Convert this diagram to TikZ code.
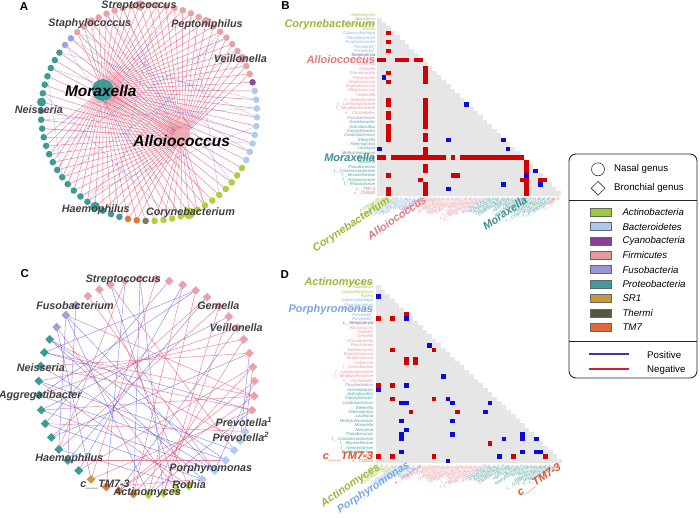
\documentclass[tikz,border=0pt]{standalone}
\usepackage{fontspec}
\setmainfont{Liberation Sans}
\usetikzlibrary{shapes.geometric}
\pgfdeclarelayer{bg}
\pgfsetlayers{bg,main}
% node colours
\definecolor{nAct}{HTML}{B2CD3E}
\definecolor{nBac}{HTML}{AFCBF0}
\definecolor{nCya}{HTML}{8E4E96}
\definecolor{nFir}{HTML}{E9A3A8}
\definecolor{nFus}{HTML}{9EA0E0}
\definecolor{nPro}{HTML}{3F9A96}
\definecolor{nSR}{HTML}{C9A03E}
\definecolor{nThe}{HTML}{847660}
\definecolor{nTM}{HTML}{E0783C}
% legend swatches
\definecolor{sAct}{HTML}{9DCB3C}
\definecolor{sBac}{HTML}{A9C9EE}
\definecolor{sCya}{HTML}{8B3F96}
\definecolor{sFir}{HTML}{E6999D}
\definecolor{sFus}{HTML}{9797D6}
\definecolor{sPro}{HTML}{3F9C99}
\definecolor{sSR}{HTML}{C79A35}
\definecolor{sThe}{HTML}{595640}
\definecolor{sTM}{HTML}{E06A3A}
% heatmap
\definecolor{hmred}{HTML}{D40000}
\definecolor{hmblue}{HTML}{0A0ADC}
\definecolor{hmgray}{HTML}{E6E6E6}
% tiny label colours
\definecolor{tA}{HTML}{A8C24A}
\definecolor{tB}{HTML}{86B2E8}
\definecolor{tC}{HTML}{8E4A98}
\definecolor{tF}{HTML}{E8959B}
\definecolor{tU}{HTML}{8C8CD8}
\definecolor{tP}{HTML}{4FA29F}
\definecolor{tT}{HTML}{E27050}
% big label colours
\definecolor{bAct}{HTML}{9DB83A}
\definecolor{bFir}{HTML}{E27A84}
\definecolor{bPro}{HTML}{3E918E}
\definecolor{bBac}{HTML}{7BA7E4}
\definecolor{bTM}{HTML}{E0552E}
% lines & text
\definecolor{negline}{HTML}{E0506E}
\definecolor{posline}{HTML}{5A5AE6}
\definecolor{lblgray}{HTML}{404040}
\definecolor{legpos}{HTML}{3A3AB0}
\definecolor{legneg}{HTML}{D42030}

\tikzset{
  netlbl/.style={font=\fontsize{10.8}{12}\selectfont\bfseries\itshape, text=lblgray, inner sep=0pt},
  hublbl/.style={font=\fontsize{15.5}{17}\selectfont\bfseries\itshape, text=black, inner sep=0pt},
  gdot/.style={circle, inner sep=0pt, minimum size=6.6pt, fill=#1},
  gdia/.style={diamond, inner sep=0pt, minimum size=9pt, fill=#1},
  negedge/.style={draw=negline, line width=0.45pt, opacity=0.72},
  posedge/.style={draw=posline, line width=0.45pt, opacity=0.7},
  faintpos/.style={draw=posline, line width=0.4pt, opacity=0.4},
  tinyl/.style={font=\fontsize{4.2}{4.2}\selectfont\itshape, inner sep=0.2pt},
  biglbl/.style={font=\fontsize{11}{12}\selectfont\bfseries\itshape, inner sep=0.3pt},
  rotlbl/.style={anchor=base east, rotate=34},
  panellbl/.style={font=\fontsize{11.5}{13}\selectfont\bfseries, inner sep=0pt},
  legtxt/.style={font=\fontsize{9.7}{11}\selectfont, inner sep=0pt, anchor=west},
  legitl/.style={font=\fontsize{9.7}{11}\selectfont\itshape, inner sep=0pt, anchor=west},
  swatch/.style={draw=black!60, line width=0.5pt, fill=#1, minimum width=21pt, minimum height=8pt, inner sep=0pt},
}

\begin{document}
\begin{tikzpicture}[x=1pt,y=-1pt]
\useasboundingbox (0,0) rectangle (700,517);
\begin{pgfonlayer}{bg}\fill[white] (0,0) rectangle (700,517);\end{pgfonlayer}

% ================= PANEL A =================
\foreach \k in {0,...,23}{\pgfmathsetmacro{\a}{146+4.7*\k}
  \node[gdot=nPro] (t\k) at ({149+108*cos(\a)},{113-108*sin(\a)}) {};}
\foreach \k in {0,...,12}{\pgfmathsetmacro{\a}{273+4.7*\k}
  \node[gdot=nAct] (g\k) at ({149+108*cos(\a)},{113-108*sin(\a)}) {};}
\foreach \k in {0,...,8}{\pgfmathsetmacro{\a}{334.2+4.7*\k}
  \node[gdot=nBac] (b\k) at ({149+108*cos(\a)},{113-108*sin(\a)}) {};}
\foreach \k in {0,...,24}{\pgfmathsetmacro{\a}{21.2+4.6*\k}
  \node[gdot=nFir] (p\k) at ({149+108*cos(\a)},{113-108*sin(\a)}) {};}
\node[gdot=nTM] (o1) at ({149+108*cos(258.8)},{113-108*sin(258.8)}) {};
\node[gdot=nTM] (o2) at ({149+108*cos(263.5)},{113-108*sin(263.5)}) {};
\node[gdot=nThe] (th) at ({149+108*cos(268.2)},{113-108*sin(268.2)}) {};
\node[gdot=nCya] (cy) at ({149+108*cos(16.5)},{113-108*sin(16.5)}) {};
\node[gdot=nFus] (f0) at ({149+108*cos(136.3)},{113-108*sin(136.3)}) {};
\node[gdot=nFus] (f1) at ({149+108*cos(141)},{113-108*sin(141)}) {};
% larger genus nodes
\node[gdot=nFir, minimum size=10.5pt] (strepA) at (p16) {};
\node[gdot=nFir, minimum size=9pt] (staphA) at (p22) {};
\node[gdot=nFir, minimum size=9pt] (peptA) at (p8) {};
\node[gdot=nFir, minimum size=9pt] (veilA) at (p2) {};
\node[gdot=nPro, minimum size=9pt] (neisA) at (t6) {};
\node[gdot=nPro, minimum size=9.5pt] (haemA) at (t20) {};
\node[gdot=nAct, minimum size=11.5pt] (coryA) at (g4) {};
% hubs
\node[gdot=nPro, minimum size=22pt] (mor) at (103,90) {};
\node[gdot=nFir, minimum size=17pt, opacity=0.85] (all) at (182,137) {};

\begin{pgfonlayer}{bg}
\foreach \k in {0,...,24} \draw[negedge] (mor) -- (p\k);
\foreach \k in {0,...,12} \draw[negedge] (mor) -- (g\k);
\foreach \k in {0,...,8} \draw[negedge] (mor) -- (b\k);
\foreach \k in {10,...,23} \draw[negedge] (mor) -- (t\k);
\draw[negedge] (mor) -- (o1) (mor) -- (o2) (mor) -- (th) (mor) -- (cy) (mor) -- (all);
\foreach \k in {0,...,23} \draw[negedge] (all) -- (t\k);
\foreach \k in {0,...,24} \draw[negedge] (all) -- (p\k);
\foreach \k in {0,...,6} \draw[negedge] (all) -- (g\k);
\draw[negedge] (all) -- (f0) (all) -- (f1) (all) -- (o1) (all) -- (o2);
\draw[faintpos] (t2) -- (b3) (t5) -- (g2) (t8) -- (b6) (p3) -- (t15) (p10) -- (g8)
  (f0) -- (b1) (t12) -- (p5) (t18) -- (b4) (p20) -- (g10) (t3) -- (t15)
  (p14) -- (t22) (b2) -- (t9) (g6) -- (p18) (t0) -- (b7) (p6) -- (t19)
  (f1) -- (g3) (p24) -- (b5) (t14) -- (p12);
\end{pgfonlayer}

\node[panellbl] (lblA) at (24,6.7) {A};
\node[netlbl] (lStrepA) at (139,6.3) {Streptococcus};
\node[netlbl] (lStaphA) at (89.7,24) {Staphylococcus};
\node[netlbl] (lPeptA) at (207,24.3) {Peptoniphilus};
\node[netlbl] (lVeilA) at (240.3,59) {Veillonella};
\node[netlbl] (lNeisA) at (38.8,109.5) {Neisseria};
\node[netlbl] (lHaemA) at (95.8,209.5) {Haemophilus};
\node[netlbl] (lCoryA) at (190.5,213) {Corynebacterium};
\node[hublbl] (lMor) at (100.8,91) {Moraxella};
\node[hublbl] (lAll) at (181.7,141) {Alloiococcus};

% ================= PANEL C =================
\foreach \a/\cl [count=\i] in {123/nFir,116/nFir,109.5/nFir,101.5/nFir,93.5/nFir,85/nFir,78/nFir,70.5/nFir,63/nFir,56/nFir,48/nFir,40.5/nFir,33/nFir,26/nFir,18/nFir,10.5/nFir,3/nFir,-5/nFir,-12.5/nFir,-24.5/nBac,-30/nBac,-36/nBac,-43/nBac,-51/nBac,-59/nBac,-67/nAct,-74/nAct,-81/nAct,-89/nAct,-97/nTM,-105/nTM,-112/nTM,-121/nSR,-129/nPro,-137/nPro,-144.5/nPro,-152/nPro,-160/nPro,-167.5/nPro,-175.5/nPro,177/nPro,169/nPro,161.5/nPro,154/nPro,146.5/nFus,138.5/nFus,131/nFus}
  \node[gdia=\cl] (c\i) at ({146.7+108*cos(\a)},{386.7-108*sin(\a)}) {};

\begin{pgfonlayer}{bg}
\foreach \u/\v in {46/24,46/29,46/36,9/40,9/43,5/30,5/28,3/27,44/23,44/25,42/24,41/22,40/23,39/24,38/25,37/15,36/26,34/8,35/10,43/19,16/20,15/21,17/24,19/29,13/31,45/33,47/35,4/32,7/38,12/39}
  \draw[posedge] (c\u) -- (c\v);
\foreach \u/\v in {1/24,2/26,3/22,6/33,8/30,10/37,11/36,12/28,13/40,14/41,16/34,18/43,18/39,19/42,20/38,21/44,23/35,25/32,26/41,27/45,28/11,29/14,30/16,31/18,33/19,17/31,42/15,4/36,9/29,46/18}
  \draw[negedge] (c\u) -- (c\v);
\end{pgfonlayer}

\node[panellbl] (lblC) at (24.7,273.3) {C};
\node[netlbl] (lStrepC) at (123.3,280) {Streptococcus};
\node[netlbl] (lFusoC) at (75,306) {Fusobacterium};
\node[netlbl] (lGemC) at (218.3,306) {Gemella};
\node[netlbl] (lVeilC) at (236.2,327.7) {Veillonella};
\node[netlbl] (lNeisC) at (40.8,367.3) {Neisseria};
\node[netlbl] (lAggC) at (40.2,396) {Aggregatibacter};
\node[netlbl] (lPrev1C) at (243.8,422) {Prevotella\textsuperscript{1}};
\node[netlbl] (lPrev2C) at (240.8,437) {Prevotella\textsuperscript{2}};
\node[netlbl] (lHaemC) at (69.2,458.3) {Haemophilus};
\node[netlbl] (lPorC) at (210.8,468.3) {Porphyromonas};
\node[netlbl] (lTMC) at (105,484.3) {c\_\_TM7-3};
\node[netlbl] (lRotC) at (189.2,484.3) {Rothia};
\node[netlbl] (lActC) at (147.2,493) {Actinomyces};

% ================= PANEL B =================
\node[panellbl] (lblB) at (285.5,6) {B};
\foreach \r in {0,...,39}
  \fill[hmgray] (377,{17.5+4.45*\r}) rectangle ({377+4.6*(\r+1)},{17.5+4.45*(\r+1)});
\foreach \r/\c in {3/2,5/2,7/2,12/2,14/2,18/2,19/2,21/2,22/2,24/2,25/2,26/2,27/2,35/2,38/2,39/2,
  9/0,9/1,9/4,9/5,9/6,9/8,9/9,
  11/10,12/10,13/10,14/10,18/10,19/10,20/10,21/10,22/10,23/10,24/10,26/10,27/10,29/10,30/10,33/10,34/10,37/10,38/10,39/10,
  31/0,31/1,31/16,35/16,35/17,36/9,36/31,36/35,36/36}
  \fill[hmred] ({377+4.6*\c},{17.5+4.45*\r}) rectangle ++(4.6,4.45);
\foreach \c in {3,...,14} \fill[hmred] ({377+4.6*\c},{17.5+4.45*31}) rectangle ++(4.6,4.45);
\foreach \c in {18,...,31} \fill[hmred] ({377+4.6*\c},{17.5+4.45*31}) rectangle ++(4.6,4.45);
\foreach \r in {32,...,39} \fill[hmred] ({377+4.6*32},{17.5+4.45*\r}) rectangle ++(4.6,4.45);
\foreach \r/\c in {13/1,29/0,19/19,27/15,27/27,29/28,34/34,35/32,37/27,37/35,38/15}
  \fill[hmblue] ({377+4.6*\c},{17.5+4.45*\r}) rectangle ++(4.6,4.45);

\foreach \nm/\cl [count=\i from 0] in {Actinomyces/tA,Atopobium/tA,Corynebacterium/tA,Rothia/tA,Capnocytophaga/tB,Flavobacterium/tB,Porphyromonas/tB,Prevotella\textsuperscript{1}/tB,Prevotella\textsuperscript{2}/tB,Streptophyta/tC,Alloiococcus/tF,Catonella/tF,Gemella/tF,Granulicatella/tF,Parvimonas/tF,Anaerococcus/tF,Staphylococcus/tF,Streptococcus/tF,Veillonella/tF,f\_\_Gemellaceae/tF,f\_\_Lachnospiraceae/tF,f\_\_Mogibacteriaceae/tF,o\_\_Clostridiales/tF,Fusobacterium/tU,Acinetobacter/tP,Actinobacillus/tP,Campylobacter/tP,Cardiobacterium/tP,Eikenella/tP,Haemophilus/tP,Lautropia/tP,Methylobacterium/tP,Moraxella/tP,Neisseria/tP,Pseudomonas/tP,f\_\_Comamonadaceae/tP,f\_\_Moraxellaceae/tP,f\_\_Neisseriaceae/tP,f\_\_Rhizobiaceae/tP,c\_\_TM7-3/tT,c\_\_CW040/tT}{
  \node[tinyl, text=\cl, anchor=east] (bl\i) at (375.5,{17.5+(\i-0.5)*4.45}) {\nm};
  \ifnum\i<40
    \node[tinyl, text=\cl, rotlbl] (bb\i) at ({377+(\i+0.5)*4.6+1.5},199) {\nm};
  \fi
}
\node[biglbl, text=bAct, anchor=east] (bCorL) at (375.5,24.2) {Corynebacterium};
\node[biglbl, text=bFir, anchor=east] (bAllL) at (375.5,59.8) {Alloiococcus};
\node[biglbl, text=bPro, anchor=east] (bMorL) at (375.5,157.7) {Moraxella};
\node[biglbl, text=bAct, rotlbl] (bCorB) at (391,201.5) {Corynebacterium};
\node[biglbl, text=bFir, rotlbl] (bAllB) at (427.8,201.5) {Alloiococcus};
\node[biglbl, text=bPro, rotlbl] (bMorB) at (528.7,201.5) {Moraxella};

% ================= PANEL D =================
\node[panellbl] (lblD) at (284.7,274.2) {D};
\foreach \r in {0,...,39}
  \fill[hmgray] (376,{285.3+4.45*\r}) rectangle ({376+4.65*(\r+1)},{285.3+4.45*(\r+1)});
\foreach \r/\c in {7/0,7/3,6/6,14/3,14/12,16/6,17/6,16/8,17/8,22/0,22/3,25/3,25/12,28/7,28/17,35/24,38/0,38/3,38/12,38/29,38/36}
  \fill[hmred] ({376+4.65*\c},{285.3+4.45*\r}) rectangle ++(4.65,4.45);
\foreach \r/\c in {2/0,7/6,13/11,20/14,22/6,23/0,25/15,26/5,26/6,26/16,26/24,28/23,30/5,30/16,32/6,33/5,34/5,33/16,34/27,33/31,34/31,34/34,37/5,37/31,37/34,37/35,38/26,39/15}
  \fill[hmblue] ({376+4.65*\c},{285.3+4.45*\r}) rectangle ++(4.65,4.45);

\foreach \nm/\cl [count=\i from 0] in {Actinomyces/tA,Atopobium/tA,Corynebacterium/tA,Rothia/tA,Capnocytophaga/tB,Flavobacterium/tB,Porphyromonas/tB,Prevotella\textsuperscript{1}/tB,Prevotella\textsuperscript{2}/tB,s\_\_Streptophyta/tC,Alloiococcus/tF,Dialister/tF,Gemella/tF,Granulicatella/tF,Parvimonas/tF,Selenomonas/tF,Staphylococcus/tF,Streptococcus/tF,Veillonella/tF,f\_\_Gemellaceae/tF,f\_\_Lachnospiraceae/tF,f\_\_Mogibacteriaceae/tF,o\_\_Clostridiales/tF,Fusobacterium/tU,Acinetobacter/tP,Actinobacillus/tP,Campylobacter/tP,Cardiobacterium/tP,Eikenella/tP,Haemophilus/tP,Lautropia/tP,Methylobacterium/tP,Moraxella/tP,Neisseria/tP,Pseudomonas/tP,f\_\_Comamonadaceae/tP,f\_\_Moraxellaceae/tP,f\_\_Neisseriaceae/tP,f\_\_Rhizobiaceae/tP,c\_\_TM7-3/tT,c\_\_CW040/tT}{
  \node[tinyl, text=\cl, anchor=east] (dl\i) at (373.5,{285.3+(\i-0.5)*4.45}) {\nm};
  \ifnum\i<40
    \node[tinyl, text=\cl, rotlbl] (db\i) at ({376+(\i+0.5)*4.65+1.5},466.8) {\nm};
  \fi
}
\node[biglbl, text=bAct, anchor=east] (dActL) at (373.5,283.1) {Actinomyces};
\node[biglbl, text=bBac, anchor=east] (dPorL) at (373.5,309.8) {Porphyromonas};
\node[biglbl, text=bTM, anchor=east] (dTML) at (373.5,456.6) {c\_\_TM7-3};
\node[biglbl, text=bAct, rotlbl] (dActB) at (380.8,468.5) {Actinomyces};
\node[biglbl, text=bBac, rotlbl] (dPorB) at (410.5,466.3) {Porphyromonas};
\node[biglbl, text=bTM, rotlbl] (dTMB) at (562.2,468.5) {c\_\_TM7-3};

% ================= LEGEND =================
\node[draw=black!85, line width=0.9pt, rounded corners=7pt, minimum width=128pt, minimum height=224pt, inner sep=0pt] (legbox) at (633,266) {};
\coordinate (ld1a) at (569,200); \coordinate (ld1b) at (697,200);
\coordinate (ld2a) at (569,341); \coordinate (ld2b) at (697,341);
\draw[black!85, line width=0.8pt] (ld1a) -- (ld1b);
\draw[black!85, line width=0.8pt] (ld2a) -- (ld2b);
\node[circle, draw=black!80, line width=0.6pt, minimum size=13pt, inner sep=0pt] (legcirc) at (598,169.3) {};
\node[legtxt] (legnasal) at (614,169.3) {Nasal genus};
\node[diamond, draw=black!80, line width=0.6pt, minimum size=14pt, inner sep=0pt] (legdia) at (598,188.3) {};
\node[legtxt] (legbron) at (614,188.3) {Bronchial genus};
\foreach \nm/\cl [count=\i from 0] in {Actinobacteria/sAct,Bacteroidetes/sBac,Cyanobacteria/sCya,Firmicutes/sFir,Fusobacteria/sFus,Proteobacteria/sPro,SR1/sSR,Thermi/sThe,TM7/sTM}{
  \node[swatch=\cl] (sw\i) at (600.5,{212.3+14.35*\i}) {};
  \node[legitl] (swt\i) at (622.3,{212.3+14.35*\i}) {\nm};
}
\coordinate (lp1) at (589,354); \coordinate (lp2) at (629,354);
\coordinate (ln1) at (589,369); \coordinate (ln2) at (629,369);
\draw[legpos, line width=1.6pt] (lp1) -- (lp2);
\draw[legneg, line width=1.6pt] (ln1) -- (ln2);
\node[legtxt] (legpostxt) at (647,355) {Positive};
\node[legtxt] (legnegtxt) at (647,369.5) {Negative};
\end{tikzpicture}
\end{document}
